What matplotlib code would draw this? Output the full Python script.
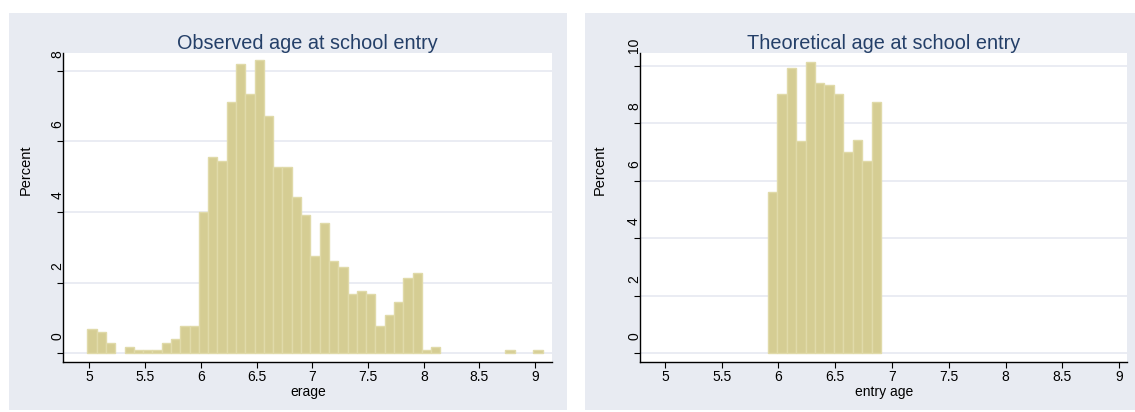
import matplotlib.pyplot as plt
import matplotlib.transforms as mtransforms
from matplotlib.patches import Rectangle

plt.rcParams['font.family'] = ['Liberation Sans', 'DejaVu Sans']

# ///////////////////////////////////////////////////////////////// data

BIN_WIDTH = 1 / 12  # one month

# observed age at entry, percent per monthly bin (first bin starts at obs_start)
obs_start = 4.983
obs_pct = [0.68, 0.59, 0.28, 0.0, 0.17, 0.09, 0.09, 0.09, 0.28, 0.40, 0.76, 0.76,
           4.01, 5.55, 5.43, 7.11, 8.18, 7.34, 8.29, 6.71, 5.26, 5.26, 4.42, 3.91,
           2.75, 3.69, 2.61, 2.43, 1.68, 1.76, 1.68, 0.77, 1.08, 1.45, 2.12, 2.26,
           0.09, 0.18, 0.0, 0.0, 0.0, 0.0, 0.0, 0.0, 0.0, 0.09, 0.0, 0.0, 0.09]

# theoretical age at entry
theo_start = 5.905
theo_pct = [5.62, 9.03, 9.93, 7.39, 10.14, 9.38, 9.31, 9.03, 6.99, 7.40, 6.67, 8.72]

x_ticks = [5, 5.5, 6, 6.5, 7, 7.5, 8, 8.5, 9]
x_labels = ['5', '5.5', '6', '6.5', '7', '7.5', '8', '8.5', '9']
obs_yticks = [0, 2, 4, 6, 8]
theo_yticks = [0, 2, 4, 6, 8, 10]

# ///////////////////////////////////////////////////////////////// style

BG = '#e8ebf2'
GRID = '#e6e9f1'
BAR = '#d5cd93'
BAR_EDGE = '#e0daa9'
TITLE = '#243f68'

fig = plt.figure(figsize=(11.35, 4.12), dpi=100)
W, H = 1135, 412


def px_rect(x0, y0, x1, y1):
    # rectangle in figure pixels, y measured from top
    return Rectangle((x0 / W, 1 - y1 / H), (x1 - x0) / W, (y1 - y0) / H,
                     transform=fig.transFigure, facecolor=BG, edgecolor='none', zorder=-10)


fig.patches.append(px_rect(9, 12.7, 567, 410))
fig.patches.append(px_rect(585, 12.7, 1135, 410))


def panel(rect, start, pct, yticks, xlim, ylim, title, xlabel, ylab_x):
    ax = fig.add_axes(rect)
    # empty bins are not drawn (no outline along the baseline)
    edges = [start + i * BIN_WIDTH for i, p in enumerate(pct) if p > 0]
    heights = [p for p in pct if p > 0]
    ax.bar(edges, heights, width=BIN_WIDTH, align='edge', color=BAR,
           edgecolor=BAR_EDGE, linewidth=1, zorder=3)
    ax.set_xlim(*xlim)
    ax.set_ylim(*ylim)
    ax.set_xticks(x_ticks)
    ax.set_xticklabels(x_labels, fontsize=10)
    ax.set_yticks(yticks)
    ax.set_yticklabels([])
    for v in yticks:
        ax.axhline(v, color=GRID, lw=1.2, zorder=1)
    # stata-like rotated labels sitting just above their tick
    off = mtransforms.ScaledTranslation(-6 / 100, 13 / 100, fig.dpi_scale_trans)
    trans = mtransforms.blended_transform_factory(ax.transAxes, ax.transData) + off
    for v in yticks:
        ax.text(0, v, str(v), transform=trans, rotation=90, ha='center', va='bottom',
                fontsize=10)
    ax.tick_params(axis='both', direction='out', length=4, width=0.8, color='black', pad=3)
    ax.tick_params(axis='x', pad=2)
    for s in ['top', 'right']:
        ax.spines[s].set_visible(False)
    for s in ['left', 'bottom']:
        ax.spines[s].set_linewidth(1.0)
    ax.text(0.5, 1.03, title, transform=ax.transAxes, ha='center', va='center',
            fontsize=14.3, color=TITLE)
    ax.set_xlabel(xlabel, fontsize=10, labelpad=1)
    ax.set_ylabel('Percent', fontsize=10.5)
    ax.yaxis.set_label_coords(ylab_x, 0.62)
    return ax


panel([63.3 / W, 1 - 361.7 / H, (552.3 - 63.3) / W, 309 / H],
      obs_start, obs_pct, obs_yticks, (4.767, 9.153), (-0.24, 8.51),
      'Observed age at school entry', 'erage', -0.062)

panel([640 / W, 1 - 361.7 / H, (1127.3 - 640) / W, 309 / H],
      theo_start, theo_pct, theo_yticks, (4.78, 9.073), (-0.29, 10.45),
      'Theoretical age at school entry', 'entry age', -0.068)

fig.savefig('out.png', dpi=100)
